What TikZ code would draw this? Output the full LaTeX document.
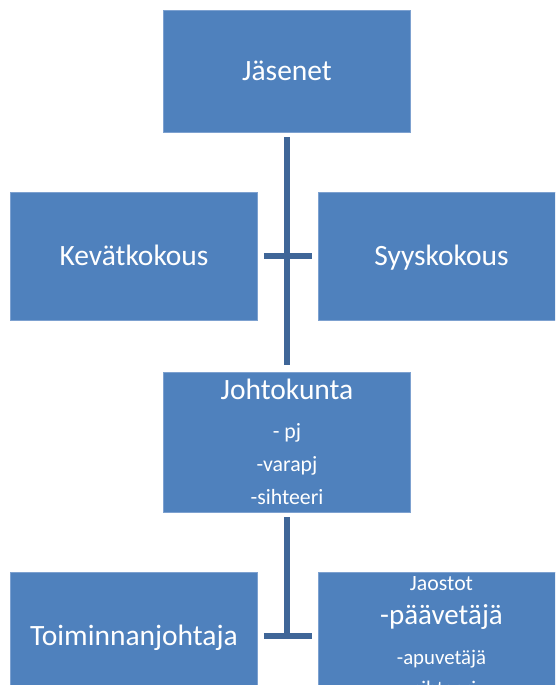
\documentclass[tikz,border=0pt]{standalone}
\usepackage{fontspec}
\setmainfont{Carlito}
\definecolor{boxblue}{HTML}{4F81BD}
\definecolor{boxedge}{HTML}{7DA1D0}
\definecolor{linkblue}{HTML}{3F6698}

\begin{document}
\begin{tikzpicture}[x=1pt, y=-1pt,
	box/.style={draw=boxedge, line width=0.8pt, fill=boxblue, text=white, inner sep=0pt, align=center, minimum width=247pt, minimum height=#1},
	big/.style={font=\fontsize{29.5}{35}\selectfont, text height=18.5pt, text depth=0pt},
	link/.style={draw=linkblue, line width=5.5pt}]
	\clip (0,0) rectangle (555,685);
	\node[box=122pt, big] (jasenet) at (287,71) {Jäsenet};
	\node[box=128pt, big] (kevat) at (134,256) {Kevätkokous};
	\node[box=128pt, big] (syys) at (441.5,256) {Syyskokous};
	\node[box=140pt, font=\fontsize{21.8}{33}\selectfont] (johto) at (287,442) {{\fontsize{29.5}{35}\selectfont Johtokunta}\\[6pt] - pj\\ -varapj\\ -sihteeri};
	\node[box=128pt, big] (toim) at (134,636) {Toiminnanjohtaja};
	\node[box=128pt, font=\fontsize{20.8}{31}\selectfont] (jaos) at (441.5,636) {{\fontsize{21.8}{25}\selectfont Jaostot}\\[3pt] {\fontsize{29}{35}\selectfont -päävetäjä}\\[9pt] -apuvetäjä\\ -sihteeri};
	\draw[link, shorten <=5pt, shorten >=7pt] (jasenet.south) -- (johto.north);
	\draw[link, shorten <=6pt, shorten >=6pt] (kevat.east) -- (syys.west);
	\draw[link, shorten <=6pt, shorten >=6pt] (toim.east) -- (jaos.west);
	\draw[link, shorten <=5pt] (johto.south) -- (johto.south |- toim.east);
\end{tikzpicture}
\end{document}
